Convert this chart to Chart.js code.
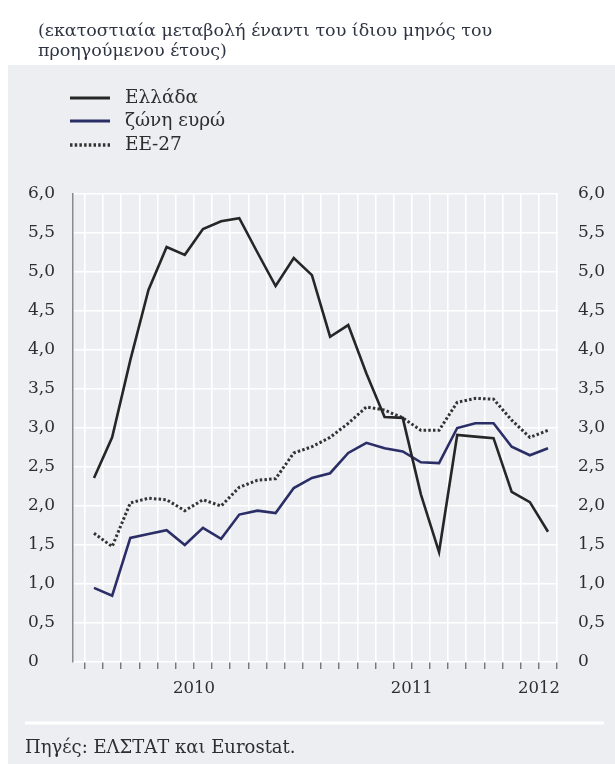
<!DOCTYPE html>
<html>
<head>
<meta charset="utf-8">
<script src="https://cdn.jsdelivr.net/npm/chart.js@4"></script>
<style>
  html, body { margin: 0; padding: 0; background: #fff; }
  canvas { display: block; }
</style>
</head>
<body>
<canvas id="chart" width="615" height="764"></canvas>
<script>
// monthly observations, Jan 2010 - Feb 2012
const months = [
  '2010-01', '2010-02', '2010-03', '2010-04', '2010-05', '2010-06',
  '2010-07', '2010-08', '2010-09', '2010-10', '2010-11', '2010-12',
  '2011-01', '2011-02', '2011-03', '2011-04', '2011-05', '2011-06',
  '2011-07', '2011-08', '2011-09', '2011-10', '2011-11', '2011-12',
  '2012-01', '2012-02'
];
const greece = [2.36, 2.88, 3.87, 4.77, 5.32, 5.22, 5.55, 5.65, 5.69, 5.25, 4.82, 5.18, 4.96,
  4.17, 4.32, 3.70, 3.14, 3.13, 2.15, 1.41, 2.91, 2.89, 2.87, 2.18, 2.05, 1.67];
const euroArea = [0.95, 0.85, 1.59, 1.64, 1.69, 1.50, 1.72, 1.58, 1.89, 1.94, 1.91, 2.23, 2.36,
  2.42, 2.68, 2.81, 2.74, 2.70, 2.56, 2.55, 3.00, 3.06, 3.06, 2.76, 2.65, 2.74];
const eu27 = [1.65, 1.48, 2.04, 2.10, 2.08, 1.94, 2.08, 2.00, 2.24, 2.33, 2.35, 2.68, 2.76,
  2.88, 3.06, 3.27, 3.23, 3.13, 2.97, 2.97, 3.33, 3.38, 3.37, 3.10, 2.88, 2.97];
const seriesNames = ['Ελλάδα', 'ζώνη ευρώ', 'ΕΕ-27'];
const titleLines = ['(εκατοστιαία μεταβολή έναντι του ίδιου μηνός του', 'προηγούμενου έτους)'];
const sourceText = 'Πηγές: ΕΛΣΤΑΤ και Eurostat.';

const FONT = '"DejaVu Serif", "Liberation Serif", serif';
const TEXT = '#2e2e2e';
const PANEL = '#eceef1';

// year label sits in the middle of the months it covers
function yearMiddles() {
  const spans = {};
  months.forEach((m, i) => {
    const y = m.slice(0, 4);
    if (!spans[y]) spans[y] = [i, i];
    spans[y][1] = i;
  });
  const out = {};
  Object.keys(spans).forEach(y => { out[(spans[y][0] + spans[y][1]) / 2] = y; });
  return out;
}
const yearAt = yearMiddles();

function fmt(v) {
  return v === 0 ? '0' : v.toFixed(1).replace('.', ',');
}

const toPoints = arr => arr.map((v, i) => ({ x: i, y: v }));

const backdrop = {
  id: 'backdrop',
  beforeDraw(chart) {
    const ctx = chart.ctx;
    ctx.save();
    ctx.fillStyle = '#fff';
    ctx.fillRect(0, 0, chart.width, chart.height);
    ctx.fillStyle = PANEL;
    ctx.fillRect(8, 65, chart.width - 8, chart.height - 65);
    ctx.strokeStyle = '#fff';
    ctx.lineWidth = 3;
    ctx.beginPath();
    ctx.moveTo(25, 723);
    ctx.lineTo(604, 723);
    ctx.stroke();
    ctx.restore();
  },
  afterDraw(chart) {
    const ctx = chart.ctx;
    ctx.save();
    ctx.textBaseline = 'middle';
    ctx.textAlign = 'left';
    ctx.fillStyle = '#2f3442';
    ctx.font = '17.5px ' + FONT;
    ctx.fillText(titleLines[0], 38, 31);
    ctx.fillText(titleLines[1], 38, 51);

    // legend
    const rows = [98, 121, 145];
    chart.data.datasets.forEach((ds, i) => {
      ctx.strokeStyle = ds.borderColor;
      ctx.lineWidth = ds.borderWidth + 0.4;
      ctx.setLineDash(ds.borderDash || []);
      ctx.beginPath();
      ctx.moveTo(70, rows[i]);
      ctx.lineTo(110, rows[i]);
      ctx.stroke();
      ctx.setLineDash([]);
      ctx.fillStyle = TEXT;
      ctx.font = '18.5px ' + FONT;
      ctx.fillText(ds.label, 125, rows[i]);
    });

    ctx.font = '18px ' + FONT;
    ctx.fillStyle = TEXT;
    ctx.fillText(sourceText, 25, 748);
    ctx.restore();
  }
};

new Chart(document.getElementById('chart'), {
  type: 'line',
  data: {
    datasets: [
      { label: seriesNames[0], data: toPoints(greece), borderColor: '#262626', borderWidth: 2.6 },
      { label: seriesNames[1], data: toPoints(euroArea), borderColor: '#2b2e66', borderWidth: 2.6 },
      { label: seriesNames[2], data: toPoints(eu27), borderColor: '#333333', borderWidth: 3, borderDash: [2.5, 2.2] }
    ]
  },
  options: {
    responsive: false,
    animation: false,
    elements: { point: { radius: 0 }, line: { tension: 0 } },
    layout: { padding: { left: 28, right: 0, top: 194, bottom: 0 } },
    plugins: {
      legend: { display: false },
      tooltip: { enabled: false }
    },
    scales: {
      x: {
        type: 'linear',
        min: -1.156,
        max: 25.55,
        afterBuildTicks: s => {
          s.ticks = months.map((m, i) => ({ value: i - 0.5 })).concat([{ value: months.length - 0.5 }]);
        },
        afterFit: s => { s.height = 102; },
        grid: { color: '#ffffff', lineWidth: 1.6, tickColor: '#444', tickWidth: 1, tickLength: 7 },
        border: { display: false },
        ticks: {
          autoSkip: false,
          maxRotation: 0,
          padding: 10,
          color: TEXT,
          font: { family: FONT, size: 16.5 },
          callback: v => yearAt[v] || ''
        }
      },
      y: {
        position: 'left',
        min: 0,
        max: 6,
        afterFit: s => { s.width = 45; },
        grid: { color: '#ffffff', lineWidth: 1.6, drawTicks: false },
        border: { color: '#8a8a8a', width: 1.5 },
        ticks: {
          stepSize: 0.5,
          crossAlign: 'far',
          color: TEXT,
          font: { family: FONT, size: 17 },
          callback: fmt
        }
      },
      y2: {
        position: 'right',
        min: 0,
        max: 6,
        afterFit: s => { s.width = 57; },
        grid: { display: false, drawTicks: false },
        border: { display: false },
        ticks: {
          stepSize: 0.5,
          padding: 20,
          color: TEXT,
          font: { family: FONT, size: 17 },
          callback: fmt
        }
      }
    }
  },
  plugins: [backdrop]
});
</script>
</body>
</html>
